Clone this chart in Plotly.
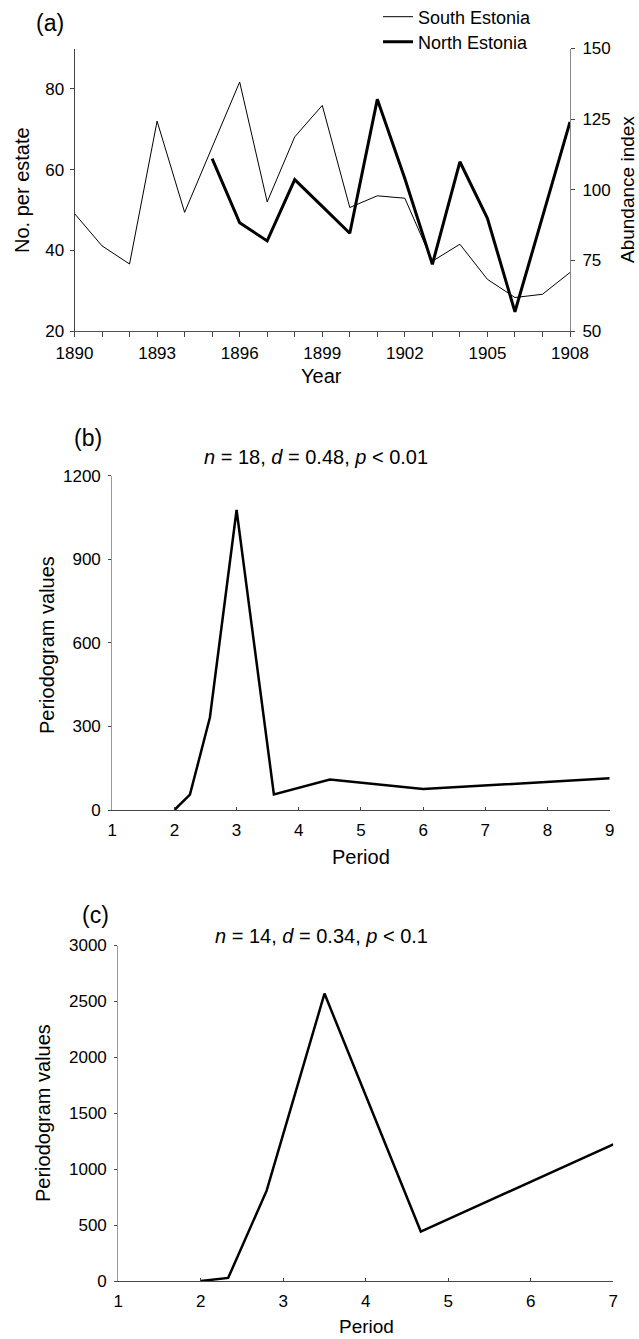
import plotly.graph_objects as go

W, H = 639, 1339

# ---------------- data ----------------
years = list(range(1890, 1909))
south_estonia = [49.1, 41.1, 36.6, 72.0, 49.4, 65.5, 81.7, 52.0, 68.1, 75.9,
                 50.6, 53.5, 52.9, 37.3, 41.5, 32.8, 28.3, 29.1, 34.5]
north_years = list(range(1895, 1909))
north_estonia = [111.0, 88.3, 81.9, 103.6, 94.1, 84.6, 132.0, 104.0, 73.6,
                 109.9, 89.9, 56.8, 90.4, 124.0]

period_b = [2.0, 2.25, 2.571, 3.0, 3.6, 4.5, 6.0, 9.0]
pgram_b = [0, 55, 332, 1077, 56, 109, 75, 114]

period_c = [2.0, 2.333, 2.8, 3.5, 4.667, 7.0]
pgram_c = [0, 28, 810, 2570, 442, 1222]

year_ticks = [1890, 1893, 1896, 1899, 1902, 1905, 1908]

FONT = "Liberation Sans, Arial, sans-serif"


def px(x):
    return x / W


def py(y):
    return 1 - y / H


fig = go.Figure()

fig.add_trace(go.Scatter(x=years, y=south_estonia, mode="lines", name="South Estonia",
                         line=dict(color="black", width=1), xaxis="x", yaxis="y",
                         legend="legend"))
fig.add_trace(go.Scatter(x=north_years, y=north_estonia, mode="lines", name="North Estonia",
                         line=dict(color="black", width=3), xaxis="x", yaxis="y2",
                         legend="legend2"))
fig.add_trace(go.Scatter(x=period_b, y=pgram_b, mode="lines", showlegend=False,
                         line=dict(color="black", width=2.5), xaxis="x2", yaxis="y3"))
fig.add_trace(go.Scatter(x=period_c, y=pgram_c, mode="lines", showlegend=False,
                         line=dict(color="black", width=2.5), xaxis="x3", yaxis="y4"))

tickfont = dict(family=FONT, size=17, color="black")
axis_common = dict(showgrid=False, zeroline=False, showline=True, tickfont=tickfont,
                   tickcolor="#444", tickwidth=1, automargin=False)

legend_common = dict(xanchor="left", yanchor="middle",
                     font=dict(family=FONT, size=18, color="black"),
                     bgcolor="rgba(0,0,0,0)", itemwidth=30, borderwidth=0)

fig.update_layout(
    width=W, height=H,
    margin=dict(l=0, r=0, t=0, b=0, autoexpand=False),
    paper_bgcolor="white", plot_bgcolor="white",
    font=dict(family=FONT, color="black"),
    showlegend=True,
    legend=dict(x=px(378), y=py(17), **legend_common),
    legend2=dict(x=px(378), y=py(42), **legend_common),
    xaxis=dict(domain=[px(74.5), px(570)], range=[1890, 1908], anchor="y",
               tickmode="array", tickvals=year_ticks, ticks="outside", ticklen=5,
               ticklabelstandoff=2,
               minor=dict(dtick=1, tick0=1890, ticks="outside", ticklen=5, tickcolor="#444"),
               linecolor="#555", **axis_common),
    yaxis=dict(domain=[py(331), py(48.5)], range=[20, 90], anchor="x",
               tickvals=[20, 40, 60, 80], ticks="outside", ticklen=4,
               ticklabelstandoff=2, linecolor="#444", **axis_common),
    yaxis2=dict(domain=[py(331), py(48.5)], range=[50, 150], anchor="x", overlaying="y",
                side="right", tickvals=[50, 75, 100, 125, 150], ticks="outside", ticklen=4,
                ticklabelstandoff=4, linecolor="#888", **axis_common),
    xaxis2=dict(domain=[px(112.2), px(609.7)], range=[1, 9], anchor="y3",
                dtick=1, ticks="inside", ticklen=3, ticklabelstandoff=5,
                linecolor="#444", **axis_common),
    yaxis3=dict(domain=[py(810), py(475.7)], range=[0, 1200], anchor="x2",
                tickvals=[0, 300, 600, 900, 1200], ticks="outside", ticklen=3,
                ticklabelstandoff=4, linecolor="#999", **axis_common),
    xaxis3=dict(domain=[px(118.2), px(613.3)], range=[1, 7], anchor="y4",
                dtick=1, ticks="inside", ticklen=3, ticklabelstandoff=5,
                linecolor="#444", **axis_common),
    yaxis4=dict(domain=[py(1281), py(945.5)], range=[0, 3000], anchor="x3",
                tickvals=[0, 500, 1000, 1500, 2000, 2500, 3000], ticks="outside", ticklen=3,
                ticklabelstandoff=4, linecolor="#999", **axis_common),
)


def label(text, x, y, size, angle=0):
    fig.add_annotation(text=text, x=px(x), y=py(y), xref="paper", yref="paper",
                       xanchor="center", yanchor="middle", showarrow=False, textangle=angle,
                       font=dict(family=FONT, size=size, color="black"))


label("(a)", 50, 23, 23)
label("(b)", 88, 438, 23)
label("(c)", 95, 915, 23)
label("<i>n</i> = 18, <i>d</i> = 0.48, <i>p</i> &lt; 0.01", 316, 457, 20)
label("<i>n</i> = 14, <i>d</i> = 0.34, <i>p</i> &lt; 0.1", 321, 936, 20)
label("Year", 322, 376, 20)
label("No. per estate", 22, 190, 20, -90)
label("Abundance index", 628, 190, 19, -90)
label("Periodogram values", 47, 645, 20, -90)
label("Period", 361, 857, 20)
label("Periodogram values", 43, 1113, 20, -90)
label("Period", 366, 1326, 19)

fig.write_html(
    "out.html",
    config={"displayModeBar": False},
    post_script="document.body.style.margin='0';document.body.style.overflow='hidden';",
)
